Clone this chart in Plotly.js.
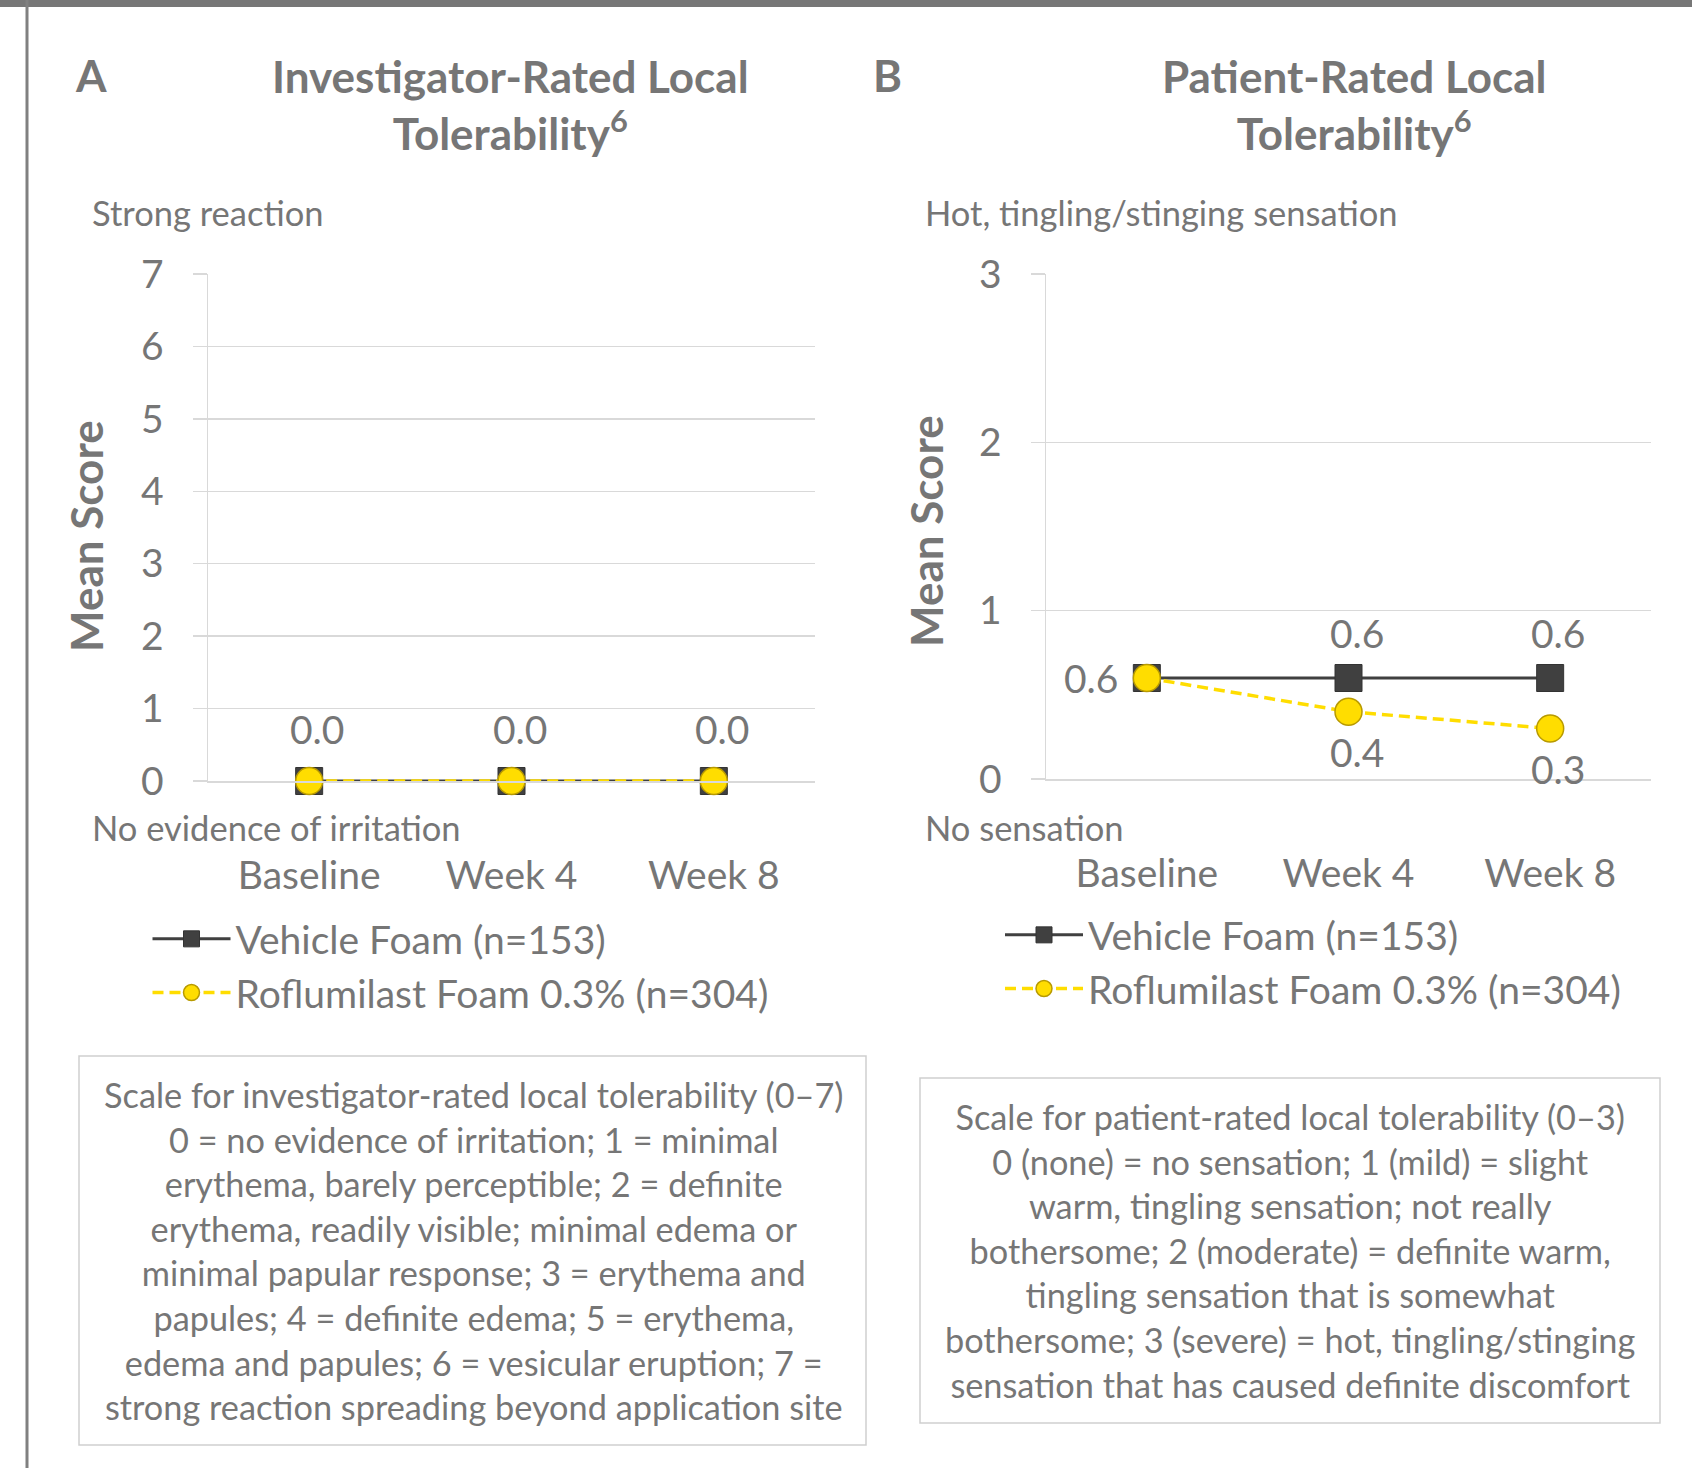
<!DOCTYPE html>
<html><head><meta charset="utf-8">
<script src="https://cdn.plot.ly/plotly-3.0.1.min.js"></script>
<style>html,body{margin:0;padding:0;background:#fff;}</style>
</head><body>
<div id="chart" style="width:1692px;height:1468px;"></div>
<script>
// ---- data ----
const timepoints = ['Baseline', 'Week 4', 'Week 8'];
const investigatorVehicle = [0.0, 0.0, 0.0];
const investigatorRoflumilast = [0.0, 0.0, 0.0];
const patientVehicle = [0.6, 0.6, 0.6];
const patientRoflumilast = [0.6, 0.4, 0.3];
const investigatorTicks = [0, 1, 2, 3, 4, 5, 6, 7];
const patientTicks = [0, 1, 2, 3];
const seriesNames = ['Vehicle Foam (n=153)', 'Roflumilast Foam 0.3% (n=304)'];
const panelTitles = ['Investigator-Rated Local<br>Tolerability<sup>6</sup>', 'Patient-Rated Local<br>Tolerability<sup>6</sup>'];
const panelLetters = ['A', 'B'];
const topAnchors = ['Strong reaction', 'Hot, tingling/stinging sensation'];
const bottomAnchors = ['No evidence of irritation', 'No sensation'];
const yTitle = 'Mean Score';
const scaleTexts = [
  'Scale for investigator-rated local tolerability (0–7)<br>0 = no evidence of irritation; 1 = minimal<br>erythema, barely perceptible; 2 = definite<br>erythema, readily visible; minimal edema or<br>minimal papular response; 3 = erythema and<br>papules; 4 = definite edema; 5 = erythema,<br>edema and papules; 6 = vesicular eruption; 7 =<br>strong reaction spreading beyond application site',
  'Scale for patient-rated local tolerability (0–3)<br>0 (none) = no sensation; 1 (mild) = slight<br>warm, tingling sensation; not really<br>bothersome; 2 (moderate) = definite warm,<br>tingling sensation that is somewhat<br>bothersome; 3 (severe) = hot, tingling/stinging<br>sensation that has caused definite discomfort'
];

// ---- styling ----
const W = 1692, H = 1468;
const px = x => x / W;
const py = y => 1 - y / H;
const TXT = '#767676';
const GRID = '#d9d9d9';
const DARK = '#404040';
const YEL = '#FFDD00';
const YEL_EDGE = '#B89A00';
const FONT = 'Lato, "Noto Sans", sans-serif';

// data-label placement (style only): which points get a label and where
const labelPlan = [
  {axis: ['x', 'y'], data: investigatorVehicle, pos: ['above', 'above', 'above'], aboveShift: 52},
  {axis: ['x2', 'y2'], data: patientVehicle, pos: ['left', 'above', 'above'], aboveShift: 45},
  {axis: ['x2', 'y2'], data: patientRoflumilast, pos: [null, 'below', 'below'], aboveShift: 45}
];
const posShift = {
  left: {xshift: -56, yshift: 0},
  below: {xshift: 8, yshift: -40}
};

const vehStyle = {
  mode: 'lines+markers', cliponaxis: false,
  line: {color: DARK, width: 3},
  marker: {symbol: 'square', size: 27, color: DARK, line: {color: '#333', width: 1}}
};
const rofStyle = {
  mode: 'lines+markers', cliponaxis: false,
  line: {color: YEL, width: 3.5, dash: '11px,6px'},
  marker: {symbol: 'circle', size: 27, color: YEL, line: {color: YEL_EDGE, width: 1.5}}
};

const traces = [
  Object.assign({}, vehStyle, {x: timepoints, y: investigatorVehicle, name: seriesNames[0], xaxis: 'x', yaxis: 'y', legend: 'legend'}),
  Object.assign({}, rofStyle, {x: timepoints, y: investigatorRoflumilast, name: seriesNames[1], xaxis: 'x', yaxis: 'y', legend: 'legend'}),
  Object.assign({}, vehStyle, {x: timepoints, y: patientVehicle, name: seriesNames[0], xaxis: 'x2', yaxis: 'y2', legend: 'legend2'}),
  Object.assign({}, rofStyle, {x: timepoints, y: patientRoflumilast, name: seriesNames[1], xaxis: 'x2', yaxis: 'y2', legend: 'legend2'})
];

const xBase = {
  type: 'category', range: [-0.5, 2.5], fixedrange: true,
  showgrid: false, zeroline: false, showline: true, linecolor: GRID, linewidth: 1.5,
  ticks: '', ticklabelstandoff: 60,
  tickfont: {family: FONT, size: 39, color: TXT}
};
const yBase = {
  fixedrange: true, showgrid: true, gridcolor: GRID, gridwidth: 1.5,
  zeroline: false, showline: true, linecolor: GRID, linewidth: 1.5,
  ticks: 'outside', ticklen: 14, tickcolor: GRID, tickwidth: 1.5,
  ticklabelstandoff: 21,
  tickfont: {family: FONT, size: 39, color: TXT}
};

const legBase = {
  xanchor: 'left', yanchor: 'top', bgcolor: 'rgba(0,0,0,0)', itemwidth: 78,
  font: {family: FONT, size: 39, color: TXT}, tracegroupgap: 0, traceorder: 'normal'
};

const ann = [];
// data labels through the axes' own scales
labelPlan.forEach(p => {
  p.data.forEach((v, i) => {
    const pos = p.pos[i];
    if (!pos) return;
    const s = pos === 'above' ? {xshift: 8, yshift: p.aboveShift} : posShift[pos];
    ann.push({xref: p.axis[0], yref: p.axis[1], x: timepoints[i], y: v, text: v.toFixed(1),
      showarrow: false, xanchor: 'center', yanchor: 'middle', xshift: s.xshift, yshift: s.yshift,
      font: {family: FONT, size: 39, color: TXT}});
  });
});

const letterX = [73, 871];
const titleCX = [510, 1354];
const anchorLeft = [90, 923];
const topAnchorY = [213, 212];
const bottomAnchorY = [827, 827];
const meanX = [86, 926];
const meanY = [536, 531];
const boxes = [[79, 1056, 866, 1445], [920, 1078, 1660, 1423]];
const boxCX = [473, 1290];
const boxCY = [1250, 1250];

for (let i = 0; i < 2; i++) {
  ann.push({xref: 'paper', yref: 'paper', x: px(letterX[i]), y: py(75), xanchor: 'left', yanchor: 'middle',
    text: '<b>' + panelLetters[i] + '</b>', showarrow: false, font: {family: FONT, size: 44, color: TXT}});
  ann.push({xref: 'paper', yref: 'paper', x: px(titleCX[i]), y: py(105), xanchor: 'center', yanchor: 'middle',
    text: '<b>' + panelTitles[i] + '</b>', showarrow: false, align: 'center', font: {family: FONT, size: 44, color: TXT}});
  ann.push({xref: 'paper', yref: 'paper', x: px(anchorLeft[i]), y: py(topAnchorY[i]), xanchor: 'left', yanchor: 'middle',
    text: topAnchors[i], showarrow: false, font: {family: FONT, size: 34.5, color: TXT}});
  ann.push({xref: 'paper', yref: 'paper', x: px(anchorLeft[i]), y: py(bottomAnchorY[i]), xanchor: 'left', yanchor: 'middle',
    text: bottomAnchors[i], showarrow: false, font: {family: FONT, size: 34.5, color: TXT}});
  ann.push({xref: 'paper', yref: 'paper', x: px(meanX[i]), y: py(meanY[i]), xanchor: 'center', yanchor: 'middle',
    text: '<b>' + yTitle + '</b>', textangle: -90, showarrow: false, font: {family: FONT, size: 44, color: TXT}});
  ann.push({xref: 'paper', yref: 'paper', x: px(boxCX[i]), y: py(boxCY[i]), xanchor: 'center', yanchor: 'middle',
    text: scaleTexts[i], showarrow: false, align: 'center', font: {family: FONT, size: 34.3, color: TXT}});
}

const shapes = [
  {type: 'rect', xref: 'paper', yref: 'paper', x0: 0, x1: 1, y0: py(7), y1: 1, fillcolor: '#777777', line: {width: 0}, layer: 'below'},
  {type: 'line', xref: 'paper', yref: 'paper', x0: px(27), x1: px(27), y0: 0, y1: 1, line: {color: '#808080', width: 3}}
];
boxes.forEach(b => shapes.push({type: 'rect', xref: 'paper', yref: 'paper',
  x0: px(b[0]), x1: px(b[2]), y0: py(b[3]), y1: py(b[1]), line: {color: '#cfcfcf', width: 1.5}, fillcolor: 'rgba(0,0,0,0)'}));

const layout = {
  width: W, height: H, margin: {l: 0, r: 0, t: 0, b: 0},
  paper_bgcolor: '#ffffff', plot_bgcolor: '#ffffff',
  font: {family: FONT, color: TXT},
  showlegend: true,
  xaxis: Object.assign({}, xBase, {domain: [px(208), px(815)], anchor: 'y'}),
  yaxis: Object.assign({}, yBase, {domain: [py(781), py(274)], range: [0, 7], tickvals: investigatorTicks, anchor: 'x'}),
  xaxis2: Object.assign({}, xBase, {domain: [px(1046), px(1651)], anchor: 'y2'}),
  yaxis2: Object.assign({}, yBase, {domain: [py(779), py(274)], range: [0, 3], tickvals: patientTicks, anchor: 'x2'}),
  legend: Object.assign({}, legBase, {x: px(147.5), y: py(907)}),
  legend2: Object.assign({}, legBase, {x: px(1000), y: py(903)}),
  annotations: ann,
  shapes: shapes
};

Plotly.newPlot('chart', traces, layout, {staticPlot: true, displayModeBar: false});
</script>
</body></html>
